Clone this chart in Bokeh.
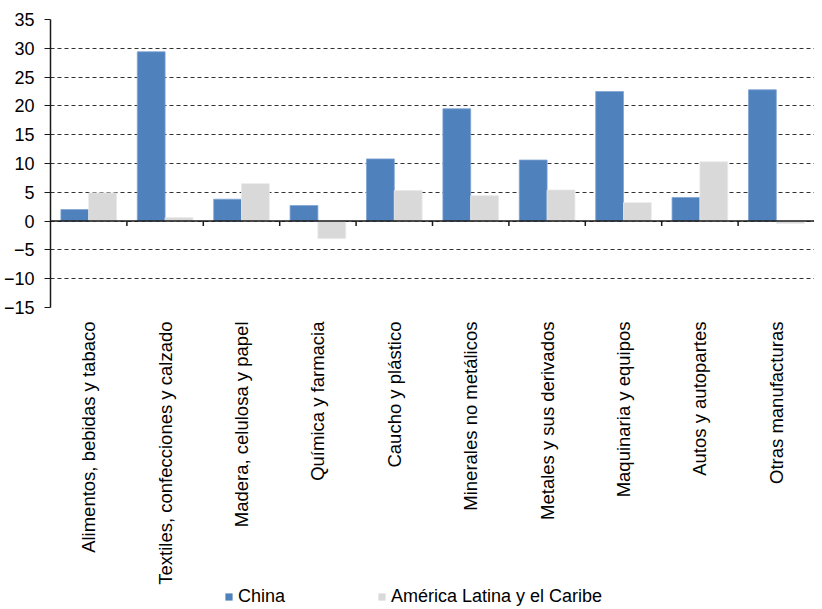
import numpy as np
from math import pi
from bokeh.plotting import figure
from bokeh.layouts import column
from bokeh.models import Range1d, FixedTicker, Legend, LegendItem, Span, ColumnDataSource
from bokeh.embed import file_html
from bokeh.resources import INLINE

categories = [
    "Alimentos, bebidas y tabaco",
    "Textiles, confecciones y calzado",
    "Madera, celulosa y papel",
    "Química y farmacia",
    "Caucho y plástico",
    "Minerales no metálicos",
    "Metales y sus derivados",
    "Maquinaria y equipos",
    "Autos y autopartes",
    "Otras manufacturas",
]
china = [2.0, 29.4, 3.8, 2.7, 10.8, 19.5, 10.6, 22.5, 4.1, 22.8]
alc = [4.9, 0.6, 6.5, -3.0, 5.3, 4.4, 5.4, 3.2, 10.3, -0.4]
series_names = ["China", "América Latina y el Caribe"]
series_colors = ["#4F81BD", "#D9D9D9"]
series_edges = ["#7FA3D3", "#E8E8E8"]
y_ticks = [-15, -10, -5, 0, 5, 10, 15, 20, 25, 30, 35]

FONT = "Liberation Sans"
n = len(categories)
centers = np.arange(n) + 0.5
bar_w = 0.364

src = ColumnDataSource(dict(
    x_china=centers - bar_w / 2,
    x_alc=centers + bar_w / 2,
    china=china,
    alc=alc,
))

p = figure(width=814, height=587,
           x_range=Range1d(0, n), y_range=Range1d(y_ticks[0], y_ticks[-1]),
           output_backend="svg", toolbar_location=None,
           min_border_left=45, min_border_right=0, min_border_top=19,
           min_border_bottom=279)
p.outline_line_color = None
p.background_fill_color = "white"

p.vbar(x="x_china", top="china", bottom=0, width=bar_w, source=src,
       fill_color=series_colors[0], line_color=series_edges[0], line_width=0.8)
p.vbar(x="x_alc", top="alc", bottom=0, width=bar_w, source=src,
       fill_color=series_colors[1], line_color=series_edges[1], line_width=0.8)

# grid
p.xgrid.visible = False
p.ygrid.ticker = FixedTicker(ticks=y_ticks)
p.ygrid.grid_line_color = "#333333"
p.ygrid.grid_line_dash = "4 3"
p.ygrid.grid_line_width = 1.2

# zero line with category boundary ticks
p.add_layout(Span(location=0, dimension="width", line_color="#1A1A1A", line_width=1.5))
tick_len = (y_ticks[-1] - y_ticks[0]) * 5.0 / 290.0
bounds = np.arange(1, n)
p.segment(x0=bounds, y0=np.zeros(len(bounds)), x1=bounds, y1=-tick_len * np.ones(len(bounds)),
          line_color="#1A1A1A", line_width=1.5)

# y axis
ya = p.yaxis[0]
ya.ticker = FixedTicker(ticks=y_ticks)
ya.major_label_text_font = FONT
ya.major_label_text_font_size = "18px"
ya.major_label_text_color = "black"
ya.axis_line_color = "#1A1A1A"
ya.axis_line_width = 1.5
ya.major_tick_line_color = "#1A1A1A"
ya.major_tick_line_width = 1.2
ya.major_tick_out = 6
ya.major_tick_in = 0
ya.minor_tick_line_color = None
ya.major_label_standoff = 10

# x axis (category labels)
xa = p.xaxis[0]
xa.ticker = FixedTicker(ticks=list(centers))
xa.major_label_overrides = {float(c): lab for c, lab in zip(centers, categories)}
xa.major_label_orientation = pi / 2
xa.major_label_text_font = FONT
xa.major_label_text_font_size = "18.5px"
xa.major_label_text_color = "black"
xa.axis_line_color = None
xa.major_tick_line_color = None
xa.minor_tick_line_color = None
xa.major_tick_out = 0
xa.major_tick_in = 0
xa.major_label_standoff = 14

# legend strip (separate small figure below the chart)
lf = figure(width=814, height=22, x_range=Range1d(0, 1), y_range=Range1d(0, 1),
            output_backend="svg", toolbar_location=None,
            x_axis_location=None, y_axis_location=None,
            min_border_left=0, min_border_right=0, min_border_top=0, min_border_bottom=0)
lf.outline_line_color = None
lf.xgrid.visible = False
lf.ygrid.visible = False
lr1 = lf.vbar(x="x", top="top", width=0.1,
              source=ColumnDataSource(dict(x=[float("nan")], top=[float("nan")])),
              fill_color=series_colors[0], line_color=None)
lr2 = lf.vbar(x="x", top="top", width=0.1,
              source=ColumnDataSource(dict(x=[float("nan")], top=[float("nan")])),
              fill_color=series_colors[1], line_color=None)
legend = Legend(items=[LegendItem(label=series_names[0], renderers=[lr1]),
                       LegendItem(label=series_names[1], renderers=[lr2])],
                orientation="horizontal", location=(174, 2),
                glyph_width=9, glyph_height=9, label_standoff=5,
                label_text_font=FONT, label_text_font_size="18px",
                label_text_color="black",
                label_height=18, spacing=92, margin=0, padding=0,
                border_line_color=None, background_fill_alpha=0)
lf.add_layout(legend, "center")

layout = column(p, lf, spacing=0)
open("out.html", "w").write(file_html(layout, INLINE))
